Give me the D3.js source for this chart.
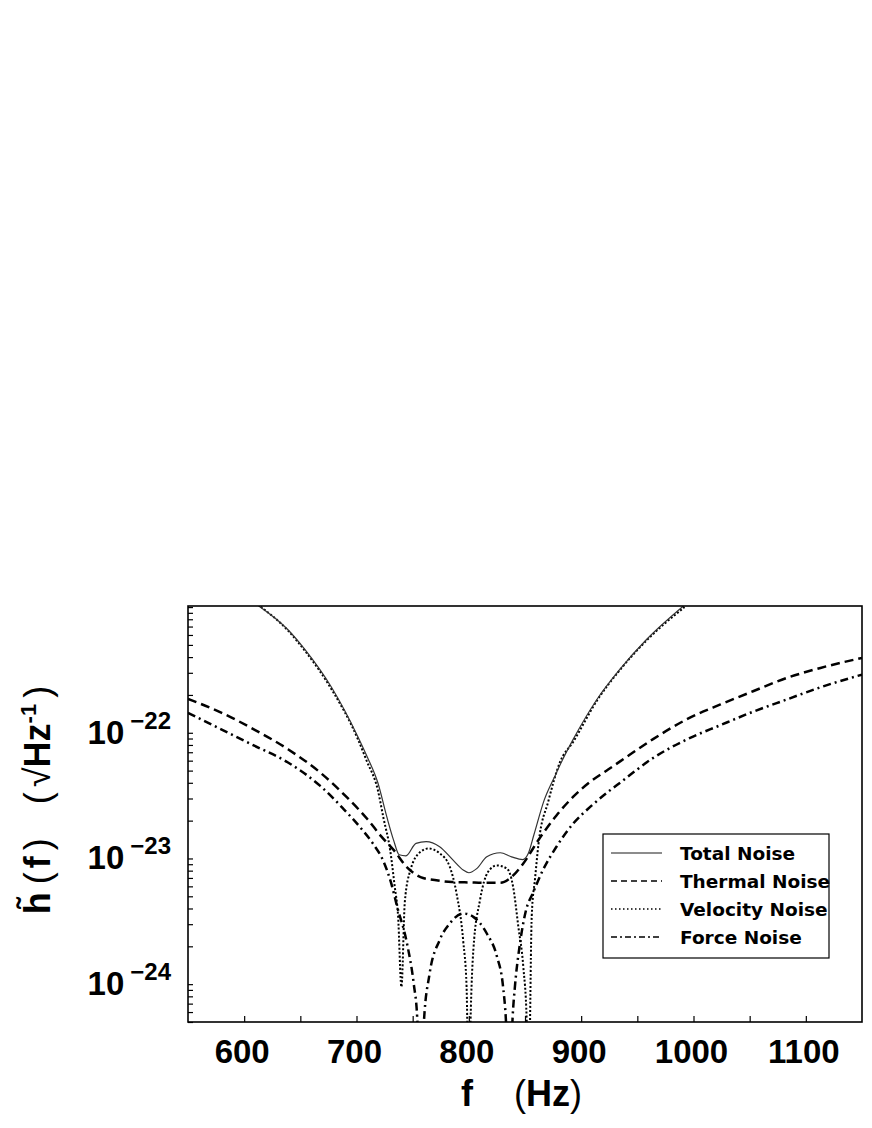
<!DOCTYPE html>
<html>
<head>
<meta charset="utf-8">
<script src="https://cdn.jsdelivr.net/npm/d3@7"></script>
<style>
  html, body { margin: 0; padding: 0; background: #fff; }
  svg { display: block; }
</style>
</head>
<body>
<svg id="chart" width="872" height="1128"></svg>
<script>
// ---------- data ----------
const totalFreq  = [613, 639, 654, 678, 701, 710, 719, 727, 733, 738, 744, 753, 762, 774, 786, 795, 800, 807, 816, 828, 838, 848, 853, 858, 867, 877, 883, 893, 914, 935, 958, 991];
const totalValue = [1.02e-21, 6.6e-22, 4.6e-22, 2.28e-22, 9.4e-23, 6.3e-23, 4.0e-23, 2.14e-23, 1.4e-23, 1.07e-23, 1.05e-23, 1.32e-23, 1.36e-23, 1.24e-23, 9.7e-24, 8.1e-24, 7.7e-24, 8.3e-24, 1.03e-23, 1.11e-23, 1.03e-23, 9.8e-24, 1.1e-23, 1.55e-23, 2.9e-23, 4.6e-23, 6.0e-23, 8.9e-23, 1.84e-22, 3.24e-22, 5.5e-22, 1.02e-21];

const thermalFreq  = [550, 580, 609, 639, 668, 692, 710, 722, 733, 745, 757, 771, 785, 800, 815, 828, 837, 848, 863, 878, 893, 908, 924, 935, 964, 994, 1024, 1053, 1083, 1113, 1150];
const thermalValue = [1.86e-22, 1.44e-22, 1.06e-22, 7.4e-23, 4.8e-23, 3.03e-23, 2.04e-23, 1.5e-23, 1.17e-23, 8.5e-24, 7.1e-24, 6.7e-24, 6.5e-24, 6.45e-24, 6.4e-24, 6.4e-24, 7.0e-24, 9.0e-24, 1.45e-23, 2.2e-23, 3.1e-23, 4.07e-23, 5.1e-23, 5.95e-23, 8.9e-23, 1.28e-22, 1.68e-22, 2.14e-22, 2.73e-22, 3.28e-22, 3.94e-22];

const velocityFreq  = [612, 639, 654, 678, 701, 709, 719, 724, 730, 734, 737, 740, 743, 748, 757, 764, 774, 783, 789, 795, 798, 800, 801.5, 804, 810, 817, 825, 834, 839.5, 844, 848.5, 851.5, 853, 856, 859, 862, 871, 881, 893, 914, 935, 958, 992];
const velocityValue = [1.05e-21, 6.5e-22, 4.5e-22, 2.2e-22, 9.0e-23, 6.0e-23, 3.5e-23, 2.1e-23, 1.16e-23, 6.0e-24, 3.5e-24, 9.5e-25, 4.5e-24, 8.1e-24, 1.13e-23, 1.2e-23, 1.1e-23, 8.6e-24, 5.3e-24, 2.2e-24, 9.5e-25, 1e-25, 5e-25, 1.86e-24, 4.7e-24, 7.8e-24, 8.8e-24, 8.3e-24, 5.9e-24, 2.9e-24, 1.37e-24, 5.2e-25, 1e-25, 3.5e-24, 7e-24, 1.3e-23, 2.9e-23, 5.8e-23, 8.5e-23, 1.8e-22, 3.2e-22, 5.4e-22, 1.0e-21];

const forceFreq  = [550, 580, 609, 639, 668, 688, 703, 715, 724, 731, 736, 745, 751, 754, 757, 760, 765, 774, 783, 795, 804, 816, 825, 830.5, 833, 836, 839, 841, 845.5, 851, 857, 866, 878, 893, 908, 924, 935, 964, 994, 1024, 1053, 1083, 1113, 1150];
const forceValue = [1.44e-22, 1.06e-22, 7.9e-23, 5.8e-23, 3.76e-23, 2.5e-23, 1.78e-23, 1.3e-23, 9.5e-24, 6.3e-24, 4.2e-24, 2.1e-24, 1.0e-24, 5.5e-25, 1e-25, 5e-25, 1.2e-24, 2.24e-24, 3.04e-24, 3.65e-24, 3.43e-24, 2.53e-24, 1.66e-24, 9.5e-25, 5.2e-25, 1e-25, 5.5e-25, 9.5e-25, 2.1e-24, 3.9e-24, 5.3e-24, 8.1e-24, 1.24e-23, 1.9e-23, 2.57e-23, 3.39e-23, 4.03e-23, 6.3e-23, 8.85e-23, 1.15e-22, 1.47e-22, 1.84e-22, 2.3e-22, 2.9e-22];

const seriesNames = ["Total Noise", "Thermal Noise", "Velocity Noise", "Force Noise"];
const xTickValues = [600, 650, 700, 750, 800, 850, 900, 950, 1000, 1050, 1100];
const xLabelValues = [600, 700, 800, 900, 1000, 1100];
const yMajorExponents = [-24, -23, -22];
const xDomain = [550, 1150];
const yDomain = [5e-25, 1.02e-21];

// ---------- layout ----------
const svg = d3.select("#chart");
const plot = { left: 188, top: 606, right: 862, bottom: 1022 };

const x = d3.scaleLinear().domain(xDomain).range([plot.left, plot.right]);
const y = d3.scaleLog().domain(yDomain).range([plot.bottom, plot.top]);

svg.append("rect").attr("width", 872).attr("height", 1128).attr("fill", "#fff");

svg.append("defs").append("clipPath").attr("id", "clip")
  .append("rect")
  .attr("x", plot.left).attr("y", plot.top)
  .attr("width", plot.right - plot.left).attr("height", plot.bottom - plot.top);

// ---------- axes ----------
const yMinor = [];
for (let e = -25; e <= -21; e++) {
  for (let k = 1; k <= 9; k++) {
    const v = k * Math.pow(10, e);
    if (v >= yDomain[0] && v <= yDomain[1]) yMinor.push(v);
  }
}

const yAxis = d3.axisLeft(y).tickValues(yMinor).tickSizeInner(-5).tickSizeOuter(0).tickFormat(() => "");
const yG = svg.append("g").attr("transform", `translate(${plot.left},0)`).call(yAxis);
yG.select(".domain").remove();
yG.selectAll(".tick line").attr("stroke", "#000").attr("stroke-width", 1.2);

const xAxis = d3.axisBottom(x).tickValues(xTickValues).tickSizeInner(-6).tickSizeOuter(0).tickFormat(() => "");
const xG = svg.append("g").attr("transform", `translate(0,${plot.bottom})`).call(xAxis);
xG.select(".domain").remove();
xG.selectAll(".tick line").attr("stroke", "#000").attr("stroke-width", 1.2);

// x tick labels
svg.append("g").selectAll("text").data(xLabelValues).join("text")
  .attr("x", d => x(d) - 2)
  .attr("y", 1063)
  .attr("text-anchor", "middle")
  .attr("font-family", "'Liberation Sans', Arial, sans-serif")
  .attr("font-weight", "bold")
  .attr("font-size", 33)
  .text(d => d);

// y tick labels 10^n
const yLab = svg.append("g").selectAll("text").data(yMajorExponents).join("text")
  .attr("x", 171)
  .attr("y", d => y(Math.pow(10, d)) + 11)
  .attr("text-anchor", "end")
  .attr("font-family", "'Liberation Sans', Arial, sans-serif")
  .attr("font-weight", "bold")
  .attr("font-size", 33);
yLab.append("tspan").text("10");
yLab.append("tspan").attr("dx", 6).attr("dy", -15).attr("font-size", 24).text(d => "\u2212" + Math.abs(d));

// axis titles
const xt = svg.append("text")
  .attr("y", 1106)
  .attr("font-family", "'Liberation Sans', Arial, sans-serif")
  .attr("font-size", 36);
xt.append("tspan").attr("x", 461).attr("font-weight", "bold").text("f");
xt.append("tspan").attr("x", 514).attr("font-weight", "normal").text("(");
xt.append("tspan").attr("font-weight", "bold").text("Hz");
xt.append("tspan").attr("font-weight", "normal").text(")");

const yt = svg.append("text")
  .attr("transform", "translate(50,800) rotate(-90)")
  .attr("text-anchor", "middle")
  .attr("font-family", "'Liberation Sans', Arial, sans-serif")
  .attr("font-size", 36);
yt.append("tspan").attr("font-weight", "bold").text("h\u0303");
yt.append("tspan").attr("dx", 8).attr("font-weight", "normal").text("(");
yt.append("tspan").attr("dx", 4).attr("font-weight", "bold").text("f");
yt.append("tspan").attr("dx", 6).attr("font-weight", "normal").text(")");
yt.append("tspan").attr("dx", 34).attr("font-weight", "normal").text("(");
yt.append("tspan").attr("dx", 5).attr("font-weight", "normal").text("\u221A");
yt.append("tspan").attr("font-weight", "bold").text("Hz");
yt.append("tspan").attr("dy", -14).attr("font-size", 22).attr("font-weight", "bold").text("-1");
yt.append("tspan").attr("dx", 6).attr("dy", 14).attr("font-weight", "normal").text(")");

// ---------- curves ----------
const styles = [
  { width: 1.2, dash: null, color: "#333" },
  { width: 2.5, dash: "9,5", color: "#000" },
  { width: 2.0, dash: "2,2", color: "#000" },
  { width: 2.5, dash: "8,4,2,4", color: "#000" }
];
const seriesData = [
  d3.zip(totalFreq, totalValue),
  d3.zip(thermalFreq, thermalValue),
  d3.zip(velocityFreq, velocityValue),
  d3.zip(forceFreq, forceValue)
];

const line = d3.line()
  .x(d => x(d[0]))
  .y(d => y(d[1]))
  .curve(d3.curveMonotoneX);

const curves = svg.append("g").attr("clip-path", "url(#clip)");
[1, 3, 2, 0].forEach(i => {
  curves.append("path")
    .datum(seriesData[i])
    .attr("fill", "none")
    .attr("stroke", styles[i].color)
    .attr("stroke-width", styles[i].width)
    .attr("stroke-dasharray", styles[i].dash)
    .attr("d", line);
});

// frame
svg.append("rect")
  .attr("x", plot.left).attr("y", plot.top)
  .attr("width", plot.right - plot.left).attr("height", plot.bottom - plot.top)
  .attr("fill", "none").attr("stroke", "#000").attr("stroke-width", 1.6);

// ---------- legend ----------
const lg = svg.append("g");
lg.append("rect")
  .attr("x", 603).attr("y", 834).attr("width", 226).attr("height", 124)
  .attr("fill", "#fff").attr("stroke", "#000").attr("stroke-width", 1.2);
const rowY = d3.scaleLinear().domain([0, 3]).range([853, 937]);
seriesNames.forEach((name, i) => {
  lg.append("line")
    .attr("x1", 611).attr("x2", 662)
    .attr("y1", rowY(i)).attr("y2", rowY(i))
    .attr("stroke", i === 0 ? "#666" : "#000")
    .attr("stroke-width", 1.3)
    .attr("stroke-dasharray", i === 0 ? null : (i === 1 ? "6,4" : (i === 2 ? "1.5,2.5" : "6,3,2,3")));
  lg.append("text")
    .attr("x", 680).attr("y", rowY(i) + 6.5)
    .attr("font-family", "'DejaVu Sans', sans-serif")
    .attr("font-weight", "bold")
    .attr("font-size", 18.5)
    .text(name);
});
</script>
</body>
</html>
